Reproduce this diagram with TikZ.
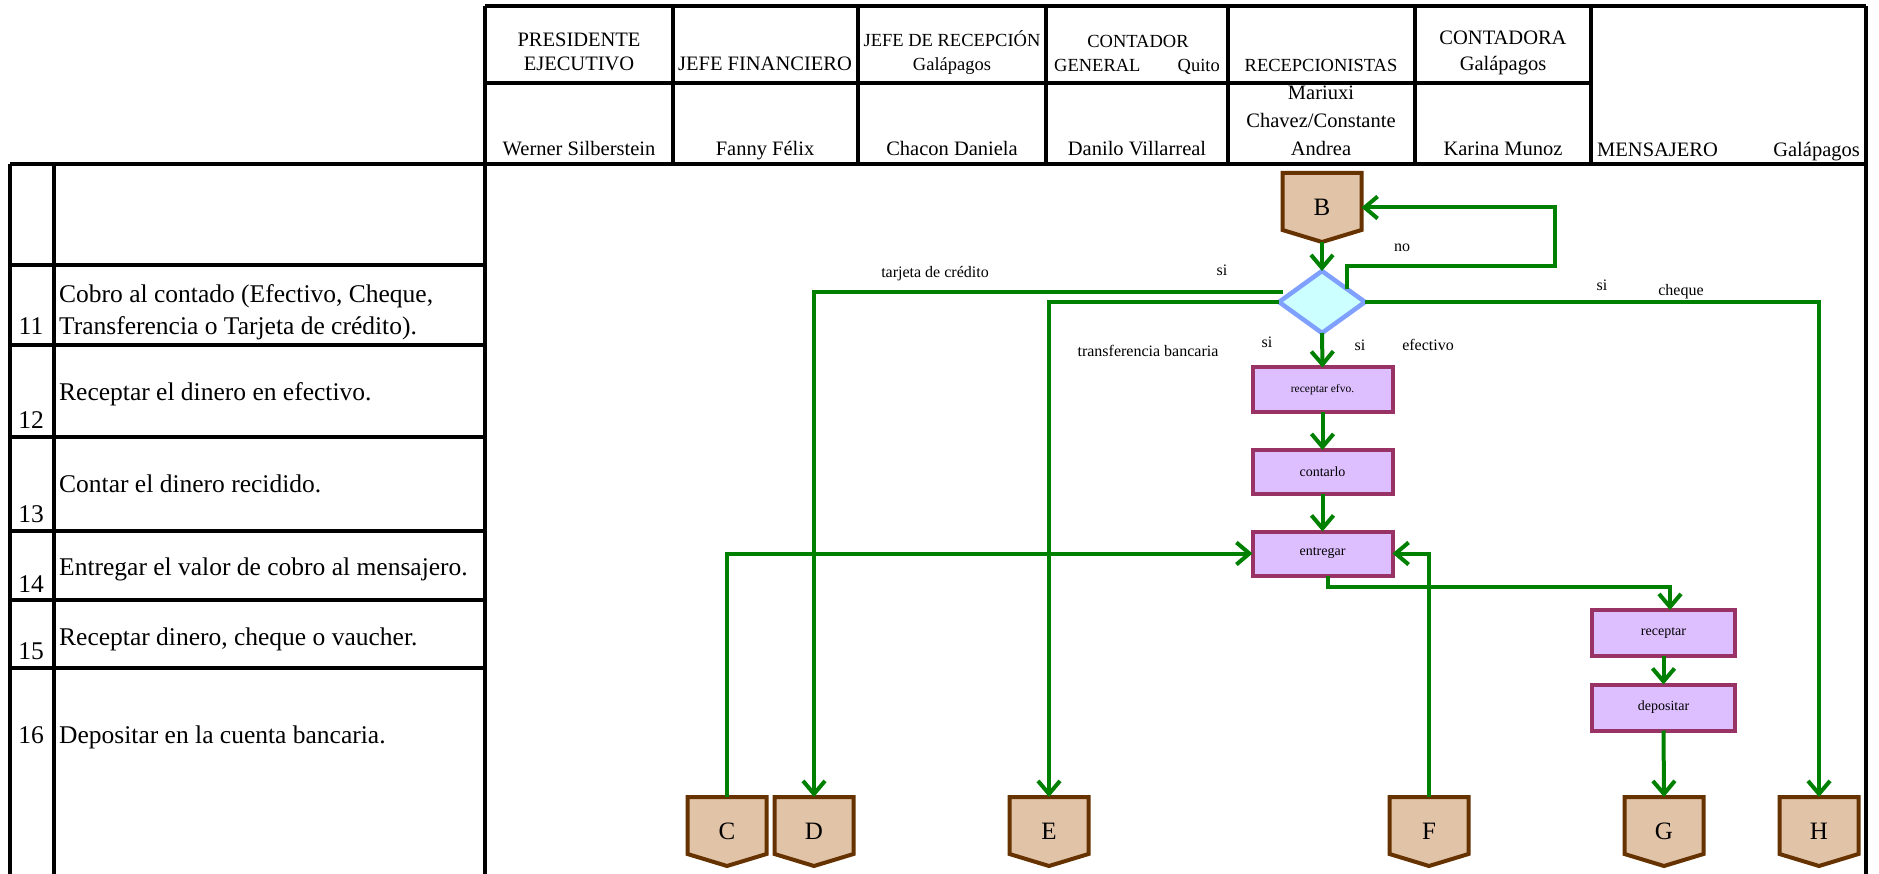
\documentclass[tikz,border=0pt]{standalone}
\usepackage{fontspec}
\setmainfont{Liberation Serif}
\usetikzlibrary{arrows.meta,shapes.geometric,calc}

\definecolor{flowgreen}{RGB}{0,128,0}
\definecolor{decfill}{RGB}{204,255,255}
\definecolor{decline}{RGB}{128,160,255}
\definecolor{procfill}{RGB}{221,191,255}
\definecolor{procline}{RGB}{153,51,102}
\definecolor{offfill}{RGB}{225,195,168}
\definecolor{offline}{RGB}{102,51,0}

\newcommand{\setpx}[1]{\fontsize{#1pt}{#1pt}\selectfont}

% off-page connector: name, centre x, top y, letter
\newcommand{\offpage}[4]{%
  \draw[offshape] (#2-39.5,#3) -- (#2+39.5,#3) -- (#2+39.5,#3+57)
        -- (#2,#3+69) -- (#2-39.5,#3+57) -- cycle;
  \node[offlabel] (#1) at (#2,#3+34.5) {#4};
}

\begin{document}
\begin{tikzpicture}[x=1pt,y=-1pt,
  grid/.style={line width=3.5pt,black},
  flow/.style={draw=flowgreen,line width=4pt,-{Straight Barb[length=13pt,width=22pt]}},
  flowline/.style={draw=flowgreen,line width=4pt},
  decision/.style={diamond,draw=decline,fill=decfill,line width=4.5pt,
    minimum width=86,minimum height=62,inner sep=0,outer sep=0},
  procbox/.style={rectangle,draw=procline,fill=procfill,line width=4pt,
    minimum width=140,minimum height=44,inner sep=0,outer sep=0,font=\setpx{14}},
  offshape/.style={draw=offline,fill=offfill,line width=4pt,line join=miter},
  offlabel/.style={inner sep=0,outer sep=0,minimum width=79,minimum height=69,font=\setpx{25}},
  head/.style={inner sep=0,anchor=base,font=\setpx{20.5}},
  headsm/.style={inner sep=0,anchor=base,font=\setpx{18.5}},
  step text/.style={inner sep=0,anchor=base west,font=\setpx{25.5}},
  stepno/.style={inner sep=0,anchor=base,font=\setpx{25.5}},
  lbl/.style={inner sep=0,font=\setpx{16}}
]
\useasboundingbox (0,0) rectangle (1879,874);

% ---- table grid ----
\draw[grid] (485,6) -- (1866,6);
\draw[grid] (485,83) -- (1591,83);
\draw[grid] (10,164) -- (1866,164);
\foreach \yy in {265,345,437,531,600,668}
  \draw[grid] (10,\yy) -- (485,\yy);
\draw[grid] (10,164) -- (10,874);
\draw[grid] (54,164) -- (54,874);
\draw[grid] (485,6) -- (485,874);
\draw[grid] (1866,6) -- (1866,874);
\foreach \xx in {673,858,1046,1228,1415,1591}
  \draw[grid] (\xx,6) -- (\xx,164);

% ---- header ----
\node[head] (hPresA) at (579,47) {PRESIDENTE};
\node[head] (hPresB) at (579,71) {EJECUTIVO};
\node[head] (hPresN) at (579,156) {Werner Silberstein};
\node[head] (hFinA) at (765,71) {JEFE FINANCIERO};
\node[head] (hFinN) at (765,156) {Fanny Félix};
\node[headsm] (hRecA) at (952,47) {JEFE DE RECEPCIÓN};
\node[headsm] (hRecB) at (952,71) {Galápagos};
\node[head] (hRecN) at (952,156) {Chacon Daniela};
\node[headsm] (hConA) at (1138,48) {CONTADOR};
\node[headsm,anchor=base west] (hConB) at (1054,72) {GENERAL};
\node[headsm,anchor=base east] (hConC) at (1220,72) {Quito};
\node[head] (hConN) at (1137,156) {Danilo Villarreal};
\node[headsm] (hRcpA) at (1321,72) {RECEPCIONISTAS};
\node[head] (hRcpN1) at (1321,100) {Mariuxi};
\node[head] (hRcpN2) at (1321,128) {Chavez/Constante};
\node[head] (hRcpN3) at (1321,156) {Andrea};
\node[head] (hCtaA) at (1503,45) {CONTADORA};
\node[head] (hCtaB) at (1503,71) {Galápagos};
\node[head] (hCtaN) at (1503,156) {Karina Munoz};
\node[head,anchor=base west] (hMenA) at (1597,157) {MENSAJERO};
\node[head,anchor=base east] (hMenB) at (1860,157) {Galápagos};

% ---- step descriptions ----
\node[step text] (s11a) at (59,303) {Cobro al contado (Efectivo, Cheque,};
\node[step text] (s11b) at (59,335) {Transferencia o Tarjeta de crédito).};
\node[stepno] (n11) at (31,335) {11};
\node[step text] (s12) at (59,400) {Receptar el dinero en efectivo.};
\node[stepno] (n12) at (31,428) {12};
\node[step text] (s13) at (59,492) {Contar el dinero recidido.};
\node[stepno] (n13) at (31,522) {13};
\node[step text] (s14) at (59,575) {Entregar el valor de cobro al mensajero.};
\node[stepno] (n14) at (31,592) {14};
\node[step text] (s15) at (59,645) {Receptar dinero, cheque o vaucher.};
\node[stepno] (n15) at (31,659) {15};
\node[step text] (s16) at (59,743) {Depositar en la cuenta bancaria.};
\node[stepno] (n16) at (31,743) {16};

% ---- flow nodes ----
\offpage{B}{1322}{173}{B}
\node[decision] (dia) at (1322,302) {};
\node[procbox,font=\setpx{11.5}] (recEf) at (1322.5,389.5) {receptar efvo.};
\node[procbox] (cont) at (1322.5,472) {contarlo};
\node[procbox] (entr) at (1322.5,553.5) {entregar};
\node[procbox,minimum width=143,minimum height=46] (rec) at (1663.5,633) {receptar};
\node[procbox,minimum width=143,minimum height=46] (dep) at (1663.5,707.5) {depositar};

\offpage{C}{727}{797}{C}
\offpage{D}{814}{797}{D}
\offpage{E}{1049}{797}{E}
\offpage{F}{1429}{797}{F}
\offpage{G}{1664}{797}{G}
\offpage{H}{1819}{797}{H}

% ---- branch labels ----
\node[lbl] (lTar) at (935,274) {tarjeta de crédito};
\node[lbl] (lSi1) at (1222,270) {si};
\node[lbl] (lNo) at (1402,248) {no};
\node[lbl] (lSi2) at (1602,285) {si};
\node[lbl] (lChe) at (1681,292) {cheque};
\node[lbl] (lTra) at (1148,351) {transferencia bancaria};
\node[lbl] (lSi3) at (1267,342) {si};
\node[lbl] (lSi4) at (1360,345) {si};
\node[lbl] (lEfe) at (1428,345) {efectivo};

% ---- connectors ----
\coordinate (noStart) at ($(dia.north)!0.58!(dia.east)$);
\coordinate (noTurn) at (1555,266);
\coordinate (tarStart) at (1283,292);
\coordinate (entOut) at (1328,576);
\coordinate (entTurn) at (1670,587);

\draw[flow] (B.south) -- (dia.north);
\draw[flow] (noStart) |- (noTurn) |- (B.east);
\draw[flow] (tarStart) -| (D.north);
\draw[flow] (dia.west) -| (E.north);
\draw[flow] (dia.east) -| (H.north);
\draw[flow] (dia.south) -- (recEf.north);
\draw[flow] (recEf.south) -- (cont.north);
\draw[flow] (cont.south) -- (entr.north);
\draw[flow] (C.north) |- (entr.west);
\draw[flow] (F.north) |- (entr.east);
\draw[flow] (entOut) |- (entTurn) -- (entTurn |- rec.north);
\draw[flow] (rec.south) -- (dep.north);
\draw[flow] (dep.south) -- (G.north);
\end{tikzpicture}
\end{document}
